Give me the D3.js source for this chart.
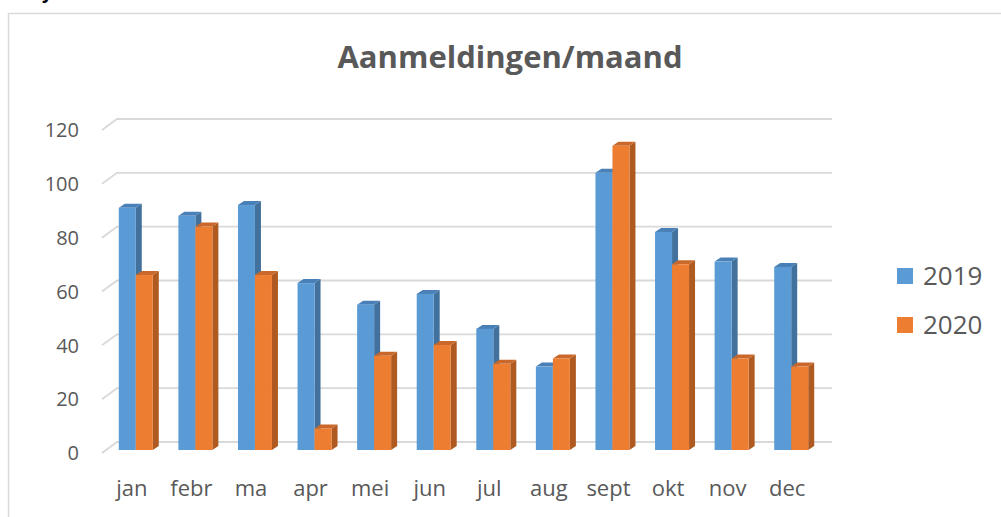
<!DOCTYPE html>
<html>
<head>
<meta charset="utf-8">
<style>
  html, body { margin: 0; padding: 0; background: #fff; }
  svg { display: block; font-family: "Open Sans", sans-serif; }
</style>
</head>
<body>
<svg id="chart" width="1001" height="517"></svg>
<script src="https://cdn.jsdelivr.net/npm/d3@7/dist/d3.min.js"></script>
<script>
// data
const months = ["jan", "febr", "ma", "apr", "mei", "jun", "jul", "aug", "sept", "okt", "nov", "dec"];
const series = ["2019", "2020"];
const values2019 = [90, 87, 91, 62, 54, 58, 45, 31, 103, 81, 70, 68];
const values2020 = [65, 83, 65, 8, 35, 39, 32, 34, 113, 69, 34, 31];
const yTicks = [0, 20, 40, 60, 80, 100, 120];

const colors = {
  "2019": { front: "#5b9bd5", side: "#41719c", top: "#4a80b8" },
  "2020": { front: "#ed7d31", side: "#ae5a21", top: "#c9682a" }
};

const svg = d3.select("#chart");
const textColor = "#595959";

// outer chart frame (only top and left visible)
svg.append("path")
  .attr("d", "M8.5,520 L8.5,13.5 L1005,13.5")
  .attr("fill", "none")
  .attr("stroke", "#d9d9d9")
  .attr("stroke-width", 1.5);

// bit of the document text above the chart
svg.append("text")
  .attr("x", 42).attr("y", -1)
  .style("font-size", "18px").style("font-weight", "bold")
  .attr("fill", "#000")
  .text("y");

// 3D layout: front plane, wall depth, bar depth
const wall = { dx: 15, dy: -11 };
const barShift = { dx: 4, dy: -3 };
const barDepth = { dx: 6, dy: -4 };

const x = d3.scaleBand().domain(months).range([102, 817]);
const y = d3.scaleLinear().domain([0, 120]).range([453, 130]);
const barW = 17;
const xs = d3.scaleBand().domain(series).range([0, barW * 2]);

// gridlines on the back wall plus the diagonal on the side wall
const grid = svg.append("g")
  .attr("fill", "none")
  .attr("stroke", "#d9d9d9")
  .attr("stroke-width", 1.8);
grid.selectAll("path")
  .data(yTicks)
  .join("path")
  .attr("d", t => {
    const x0 = x.range()[0], y0 = y(t);
    return `M${x0},${y0} L${x0 + wall.dx},${y0 + wall.dy} L${x.range()[1] + wall.dx},${y0 + wall.dy}`;
  });

// y tick labels
svg.append("g")
  .selectAll("text")
  .data(yTicks)
  .join("text")
  .attr("x", 79)
  .attr("y", d => y(d))
  .attr("dy", "0.36em")
  .attr("text-anchor", "end")
  .attr("fill", textColor)
  .style("font-size", "20px")
  .text(d => d);

// bars
const rows = months.map((m, i) => ({ month: m, "2019": values2019[i], "2020": values2020[i] }));
const groups = svg.append("g")
  .selectAll("g")
  .data(rows)
  .join("g")
  .attr("transform", d => `translate(${x(d.month) + (x.bandwidth() - barW * 2) / 2 + barShift.dx},${barShift.dy})`);

series.forEach(s => {
  const c = colors[s];
  const bar = groups.append("g");
  const bx = () => xs(s);
  // side face
  bar.append("path")
    .attr("fill", c.side)
    .attr("d", d => {
      const x1 = bx() + barW, yt = y(d[s]), yb = y(0);
      return `M${x1},${yt} L${x1 + barDepth.dx},${yt + barDepth.dy} L${x1 + barDepth.dx},${yb + barDepth.dy} L${x1},${yb}Z`;
    });
  // top face
  bar.append("path")
    .attr("fill", c.top)
    .attr("d", d => {
      const x0 = bx(), yt = y(d[s]);
      return `M${x0},${yt} L${x0 + barDepth.dx},${yt + barDepth.dy} L${x0 + barW + barDepth.dx},${yt + barDepth.dy} L${x0 + barW},${yt}Z`;
    });
  // front face
  bar.append("rect")
    .attr("fill", c.front)
    .attr("x", bx())
    .attr("y", d => y(d[s]))
    .attr("width", barW)
    .attr("height", d => y(0) - y(d[s]));
});

// x labels
svg.append("g")
  .selectAll("text")
  .data(months)
  .join("text")
  .attr("x", d => x(d) + x.bandwidth() / 2)
  .attr("y", 488)
  .attr("dy", "0.36em")
  .attr("text-anchor", "middle")
  .attr("fill", textColor)
  .style("font-size", "22px")
  .text(d => d);

// title
svg.append("text")
  .attr("x", 510).attr("y", 68)
  .attr("text-anchor", "middle")
  .attr("fill", textColor)
  .style("font-size", "31px")
  .style("font-weight", "bold")
  .text("Aanmeldingen/maand");

// legend
const legend = svg.append("g")
  .selectAll("g")
  .data(series)
  .join("g")
  .attr("transform", (d, i) => `translate(897,${268 + i * 49})`);
legend.append("rect")
  .attr("width", 16).attr("height", 16)
  .attr("fill", d => colors[d].front);
legend.append("text")
  .attr("x", 26).attr("y", 8)
  .attr("dy", "0.36em")
  .attr("fill", textColor)
  .style("font-size", "26px")
  .text(d => d);
</script>
</body>
</html>
